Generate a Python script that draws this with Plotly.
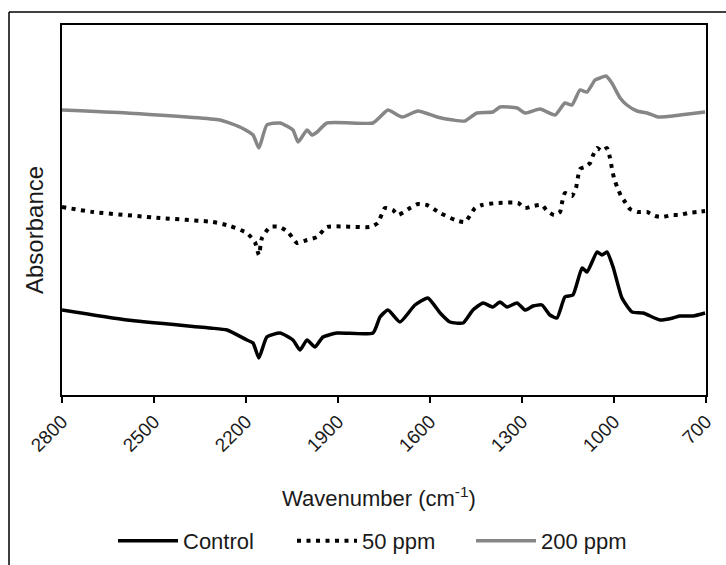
import plotly.graph_objects as go

# ---- data (wavenumber cm-1, absorbance in arbitrary offset units) ----
control_wn = [2800, 2588, 2317, 2262, 2197, 2177, 2158, 2132, 2089, 2047, 2024, 2001, 1975, 1949,
              1903, 1786, 1763, 1737, 1698, 1649, 1607, 1567, 1535, 1492, 1460, 1427, 1395, 1372,
              1349, 1316, 1290, 1264, 1235, 1209, 1186, 1160, 1134, 1104, 1088, 1055, 1039, 1023,
              1003, 974, 941, 905, 850, 808, 785, 742, 703]
control_abs = [85, 75, 67, 65, 55, 52, 37, 58, 62, 55, 45, 55, 48, 58,
               62, 62, 78, 85, 73, 90, 97, 82, 73, 72, 85, 92, 88, 93,
               88, 92, 85, 89, 90, 80, 77, 98, 100, 127, 123, 143, 140, 143,
               128, 97, 83, 82, 75, 77, 79, 79, 82]

ppm50_wn = [2800, 2699, 2480, 2308, 2252, 2197, 2171, 2158, 2148, 2122, 2089, 2063, 2034, 2001,
            1968, 1936, 1796, 1770, 1747, 1721, 1704, 1665, 1639, 1610, 1567, 1518, 1486, 1453,
            1430, 1382, 1313, 1290, 1264, 1235, 1218, 1195, 1176, 1169, 1160, 1137, 1124, 1118,
            1111, 1095, 1078, 1068, 1055, 1039, 1023, 1013, 1007, 1000, 990, 977, 964, 948, 922,
            892, 866, 840, 811, 785, 759, 729, 703]
ppm50_abs = [188, 183, 177, 173, 169, 162, 153, 140, 157, 168, 168, 163, 152, 155,
             158, 168, 168, 172, 187, 185, 180, 187, 191, 190, 182, 175, 173, 187,
             190, 192, 192, 187, 189, 190, 184, 180, 183, 193, 202, 199, 207, 217,
             226, 228, 232, 240, 247, 244, 247, 237, 227, 217, 208, 199, 193, 186, 183,
             183, 179, 178, 180, 180, 182, 183, 184]

ppm200_wn = [2800, 2588, 2285, 2220, 2177, 2158, 2132, 2089, 2047, 2030, 2001, 1985, 1968, 1936,
             1786, 1763, 1737, 1691, 1639, 1577, 1525, 1486, 1447, 1395, 1372, 1316, 1290, 1241,
             1192, 1160, 1137, 1111, 1088, 1062, 1046, 1026, 1007, 980, 958, 925, 892, 856, 785, 703]
ppm200_abs = [285, 282, 275, 268, 260, 247, 270, 272, 265, 253, 265, 260, 263, 272,
              272, 278, 285, 278, 284, 278, 275, 274, 282, 283, 288, 287, 282, 286,
              280, 292, 290, 305, 303, 315, 317, 319, 312, 297, 290, 284, 282, 278, 280, 283]

x_ticks = [2800, 2500, 2200, 1900, 1600, 1300, 1000, 700]

FONT = "Liberation Sans, Arial, sans-serif"
TXT = "#1a1a1a"

fig = go.Figure()
fig.add_trace(go.Scatter(x=control_wn, y=control_abs, mode="lines", name="Control",
                         line=dict(color="#000000", width=3.5, shape="spline", smoothing=0.5)))
fig.add_trace(go.Scatter(x=ppm50_wn, y=ppm50_abs, mode="lines", name="50 ppm",
                         line=dict(color="#000000", width=4, dash="4px,5.5px",
                                   shape="spline", smoothing=0.5)))
fig.add_trace(go.Scatter(x=ppm200_wn, y=ppm200_abs, mode="lines", name="200 ppm",
                         line=dict(color="#868686", width=3.5, shape="spline", smoothing=0.5)))

W, H = 726, 565
L, R, T, B = 62, 706, 25, 395
pw, ph = R - L, B - T
def px(x):
    return (x - L) / pw
def py(y):
    return (B - y) / ph

fig.update_layout(
    width=W, height=H,
    margin=dict(l=L, r=W - R, t=T, b=H - B, autoexpand=False),
    paper_bgcolor="white", plot_bgcolor="white",
    font=dict(family=FONT, size=19, color=TXT),
    showlegend=True,
    legend=dict(orientation="h", x=px(113), xanchor="left", y=py(562), yanchor="bottom",
                font=dict(family=FONT, size=22, color=TXT), bgcolor="rgba(0,0,0,0)",
                entrywidth=104, entrywidthmode="pixels", itemwidth=60),
    shapes=[
        # outer chart-area frame (clipped at right/bottom like the reference)
        dict(type="line", xref="paper", yref="paper", x0=px(9), x1=px(9), y0=py(12), y1=py(570),
             line=dict(color="#000000", width=1.5)),
        dict(type="line", xref="paper", yref="paper", x0=px(9), x1=px(730), y0=py(12), y1=py(12),
             line=dict(color="#000000", width=1.5)),
    ],
    annotations=[
        dict(text="Wavenumber (cm<sup>-1</sup>)", xref="paper", yref="paper",
             x=px(379), y=py(497), xanchor="center", yanchor="middle", showarrow=False,
             font=dict(family=FONT, size=22, color=TXT)),
        dict(text="Absorbance", xref="paper", yref="paper", textangle=-90,
             x=px(34), y=py(230), xanchor="center", yanchor="middle", showarrow=False,
             font=dict(family=FONT, size=24, color=TXT)),
    ],
)

fig.update_xaxes(
    range=[2800, 700], tickvals=x_ticks, ticktext=[str(v) for v in x_ticks],
    tickangle=-45, ticks="outside", ticklen=6, tickwidth=1.5, tickcolor="#000000",
    showline=True, linecolor="#000000", linewidth=2, mirror=True,
    showgrid=False, zeroline=False,
    tickfont=dict(family=FONT, size=19, color=TXT),
)
fig.update_yaxes(
    range=[0, 370], showticklabels=False, ticks="",
    showline=True, linecolor="#000000", linewidth=2, mirror=True,
    showgrid=False, zeroline=False,
)

fig.write_html("out.html", config={"displayModeBar": False},
               post_script="document.body.style.margin='0';document.body.style.overflow='hidden';")
